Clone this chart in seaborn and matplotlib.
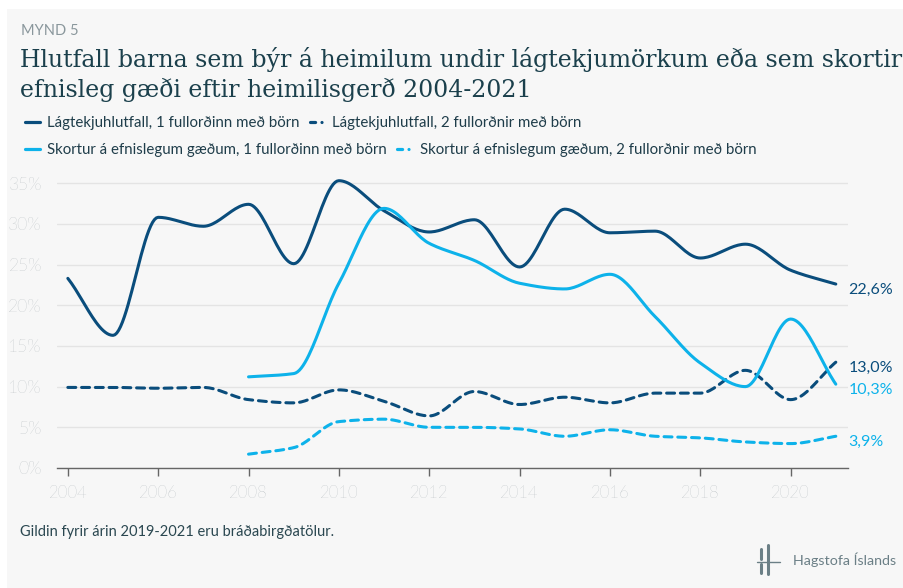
import numpy as np
import pandas as pd
import matplotlib
matplotlib.use("Agg")
import matplotlib.pyplot as plt
from matplotlib.lines import Line2D
from matplotlib.patches import Rectangle
import seaborn as sns

# Data
years_all = list(range(2004, 2022))
years_mat = list(range(2008, 2022))

low_income_1 = [23.3, 16.3, 30.8, 29.7, 32.4, 25.1, 35.3, 31.6, 29.0, 30.5,
                24.7, 31.8, 28.9, 29.1, 25.8, 27.5, 24.3, 22.6]
low_income_2 = [9.9, 9.9, 9.8, 9.9, 8.4, 8.0, 9.6, 8.2, 6.4, 9.4,
                7.8, 8.7, 8.0, 9.2, 9.2, 12.0, 8.4, 13.0]
deprivation_1 = [11.2, 11.6, 22.7, 31.9, 27.6, 25.5, 22.7, 22.0, 23.8, 18.6,
                 12.9, 10.0, 18.3, 10.3]
deprivation_2 = [1.7, 2.5, 5.7, 6.0, 5.0, 5.0, 4.8, 3.9, 4.7, 3.9,
                 3.7, 3.2, 3.0, 3.9]

labels = [
    "Lágtekjuhlutfall, 1 fullorðinn með börn",
    "Lágtekjuhlutfall, 2 fullorðnir með börn",
    "Skortur á efnislegum gæðum, 1 fullorðinn með börn",
    "Skortur á efnislegum gæðum, 2 fullorðnir með börn",
]
end_labels = ["22,6%", "13,0%", "10,3%", "3,9%"]
y_ticks = [0, 5, 10, 15, 20, 25, 30, 35]
x_ticks = list(range(2004, 2021, 2))

DARK = "#0a4d7c"
LIGHT = "#0db2ea"
BG = "#f7f7f7"
TEXT = "#1f3d4a"


def smooth(x, y, n=24):
    # monotone cubic curve through the points (spline look of the original)
    x = np.asarray(x, float)
    y = np.asarray(y, float)
    h = np.diff(x)
    d = np.diff(y) / h
    m = np.zeros_like(y)
    m[0], m[-1] = d[0], d[-1]
    for i in range(1, len(y) - 1):
        if d[i - 1] * d[i] > 0:
            w1 = 2 * h[i] + h[i - 1]
            w2 = h[i] + 2 * h[i - 1]
            m[i] = (w1 + w2) / (w1 / d[i - 1] + w2 / d[i])
    xs, ys = [], []
    for i in range(len(x) - 1):
        t = np.linspace(0, 1, n, endpoint=False)
        h00 = 2 * t**3 - 3 * t**2 + 1
        h10 = t**3 - 2 * t**2 + t
        h01 = -2 * t**3 + 3 * t**2
        h11 = t**3 - t**2
        xs.append(x[i] + t * h[i])
        ys.append(h00 * y[i] + h10 * h[i] * m[i] + h01 * y[i + 1] + h11 * h[i] * m[i + 1])
    xs.append([x[-1]])
    ys.append([y[-1]])
    return np.concatenate(xs), np.concatenate(ys)


sns.set_theme(style="white")
plt.rcParams["font.family"] = ["Lato", "DejaVu Sans"]

fig = plt.figure(figsize=(9.04, 5.88), dpi=100, facecolor="white")
fig.add_artist(Rectangle((7 / 904, 0), 1, (588 - 9) / 588, transform=fig.transFigure,
                         facecolor=BG, edgecolor="none", zorder=-10))

ax = fig.add_axes([57 / 904, (588 - 468) / 588, (848 - 57) / 904, (468 - 175) / 588])
ax.set_facecolor(BG)

series = [
    (years_all, low_income_1, DARK, False),
    (years_all, low_income_2, DARK, True),
    (years_mat, deprivation_1, LIGHT, False),
    (years_mat, deprivation_2, LIGHT, True),
]
for (xv, yv, col, dashed), lab, endlab in zip(series, labels, end_labels):
    xs, ys = smooth(xv, yv)
    df = pd.DataFrame({"ar": xs, "hlutfall": ys})
    sns.lineplot(data=df, x="ar", y="hlutfall", ax=ax, color=col, linewidth=2.2,
                 estimator=None, sort=False)
    line = ax.lines[-1]
    line.set_solid_capstyle("round")
    if dashed:
        line.set_dashes((2.6, 1.9))
        line.set_dash_capstyle("round")
    ax.annotate(endlab, xy=(xv[-1], yv[-1]), xytext=(9, -4), textcoords="offset points",
                color=col, fontsize=11.5, va="center", ha="left", annotation_clip=False)

ax.set_xlim(2003.76, 2021.27)
ax.set_ylim(0, 36)
ax.set_yticks(y_ticks)
ax.set_yticklabels([f"{v}%" for v in y_ticks])
ax.set_xticks(x_ticks)
ax.set_xticklabels([str(v) for v in x_ticks])
ax.set_xlabel("")
ax.set_ylabel("")
ax.grid(axis="y", color="#e4e4e4", linewidth=1)
ax.set_axisbelow(True)
for s in ["top", "right", "left"]:
    ax.spines[s].set_visible(False)
ax.spines["bottom"].set_color("#666666")
ax.spines["bottom"].set_linewidth(1)
ax.tick_params(axis="x", bottom=True, direction="out", length=6, width=1, color="#666666",
               labelsize=12, labelcolor="#9ea7ac", pad=6)
ax.tick_params(axis="y", left=False, labelsize=12.5, labelcolor="#9ea7ac", pad=5)
for t in ax.get_xticklabels() + ax.get_yticklabels():
    t.set_fontweight("light")

# header
fig.text(21 / 904, 1 - 31 / 588, "MYND 5", fontsize=10.5, color="#8a979c", va="center")
fig.text(20 / 904, 1 - 60 / 588,
         "Hlutfall barna sem býr á heimilum undir lágtekjumörkum eða sem skortir",
         fontsize=17, color="#1b404c", va="center", family="DejaVu Serif")
fig.text(20 / 904, 1 - 90 / 588, "efnisleg gæði eftir heimilisgerð 2004-2021",
         fontsize=17, color="#1b404c", va="center", family="DejaVu Serif")


# legend rows
def handle(col, dashed):
    h = Line2D([], [], color=col, linewidth=2.3, solid_capstyle="round")
    if dashed:
        h.set_dashes((1.6, 2.0, 0.01, 3.0))
        h.set_dash_capstyle("round")
    return h


for row, (i, j) in enumerate([(0, 1), (2, 3)]):
    col = DARK if row == 0 else LIGHT
    fig.legend([handle(col, False), handle(col, True)], [labels[i], labels[j]], ncol=2,
               loc="center left", bbox_to_anchor=(11 / 904, 1 - (123 + 27 * row) / 588),
               frameon=False, fontsize=10.8, handlelength=1.0, handletextpad=0.5,
               columnspacing=0.7, labelcolor=TEXT)

# footer
fig.text(20 / 904, 1 - 532 / 588, "Gildin fyrir árin 2019-2021 eru bráðabirgðatölur.",
         fontsize=10.5, color="#2a4750", va="center")
fig.text(896 / 904, 1 - 560 / 588, "Hagstofa Íslands", fontsize=10.3, color="#6b7f86",
         va="center", ha="right")
logo = "#6b7f86"
for xa, y0, y1 in [(761, 549, 559), (768, 545, 574), (761, 564, 573)]:
    fig.add_artist(Line2D([xa / 904, xa / 904], [1 - y0 / 588, 1 - y1 / 588],
                          color=logo, linewidth=2.2, transform=fig.transFigure))
fig.add_artist(Line2D([757 / 904, 780 / 904], [1 - 562 / 588, 1 - 562 / 588],
                      color=logo, linewidth=1.0, transform=fig.transFigure))

fig.savefig("out.png", dpi=100, facecolor=fig.get_facecolor())
